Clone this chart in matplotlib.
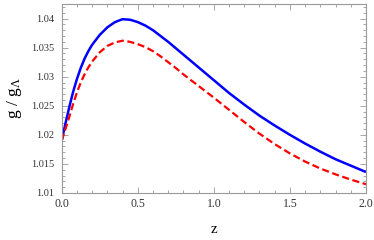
"""Growth ratio g / g_Lambda versus redshift."""
import matplotlib
matplotlib.use("Agg")
import matplotlib.pyplot as plt
from matplotlib.ticker import MultipleLocator, FuncFormatter

# values
z_grid = [0.0, 0.025, 0.05, 0.075, 0.1, 0.125, 0.15, 0.175, 0.2,
          0.25, 0.3, 0.35, 0.4, 0.45, 0.5, 0.55, 0.6, 0.65, 0.7, 0.75, 0.8, 0.85, 0.9, 0.95, 1.0,
          1.1, 1.2, 1.3, 1.4, 1.5, 1.6, 1.7, 1.8, 1.9, 2.0]
g_blue = [1.0190, 1.0220, 1.0248, 1.0274, 1.0296, 1.0315, 1.0331, 1.0344, 1.0355,
          1.0372, 1.0385, 1.0394, 1.0399, 1.0398, 1.0394, 1.0388, 1.0380, 1.0370, 1.0360,
          1.0349, 1.0338, 1.0327, 1.0316, 1.0305, 1.0294,
          1.0272, 1.0252, 1.0233, 1.0216, 1.0200, 1.0185, 1.0171, 1.0158, 1.0147, 1.0136]
g_red = [1.0190, 1.0210, 1.0231, 1.0253, 1.0273, 1.0290, 1.0304, 1.0316, 1.0326,
         1.0342, 1.0353, 1.0359, 1.0362, 1.0360, 1.0356, 1.0351, 1.0344, 1.0335, 1.0325,
         1.0315, 1.0304, 1.0294, 1.0284, 1.0274, 1.0264,
         1.0243, 1.0222, 1.0202, 1.0184, 1.0168, 1.0154, 1.0142, 1.0132, 1.0123, 1.0115]

x_ticks = [0.0, 0.5, 1.0, 1.5, 2.0]
y_ticks = [1.01, 1.015, 1.02, 1.025, 1.03, 1.035, 1.04]


def plot_growth(out_path: str) -> None:
    """Mathematica-style framed plot of the two curves."""
    plt.rcParams["font.family"] = ["Liberation Serif", "DejaVu Serif"]
    plt.rcParams["mathtext.fontset"] = "custom"
    plt.rcParams["mathtext.rm"] = "Liberation Serif"
    plt.rcParams["mathtext.it"] = "Liberation Serif:italic"
    fig = plt.figure(figsize=(3.74, 2.40), dpi=100)
    ax = fig.add_axes([0.165, 0.196, 0.8136, 0.787])

    ax.plot(z_grid, g_blue, color="#0000ff", lw=1.8, solid_capstyle="butt")
    ax.plot(z_grid, g_red, color="#ff0000", lw=1.6, dashes=(3.2, 1.6))

    ax.set_xlim(0, 2.0)
    ax.set_ylim(1.01, 1.0425)

    # ticks: inward, on every side, labels only bottom/left
    ax.set_xticks(x_ticks)
    ax.set_yticks(y_ticks)
    ax.xaxis.set_minor_locator(MultipleLocator(0.1))
    ax.yaxis.set_minor_locator(MultipleLocator(0.001))
    ax.xaxis.set_major_formatter(FuncFormatter(lambda v, p: f"{v:.1f}"))
    ax.yaxis.set_major_formatter(FuncFormatter(lambda v, p: f"{v:g}"))
    ax.tick_params(which="both", direction="in", top=True, right=True,
                   color="#999999", width=0.6, labelcolor="#333333")
    ax.tick_params(which="major", length=4)
    ax.tick_params(which="minor", length=2)
    ax.tick_params(axis="x", which="major", labelsize=8.5, pad=3.5)
    ax.tick_params(axis="y", which="major", labelsize=7.5, pad=5.5)
    for side in ax.spines.values():
        side.set_color("#999999")
        side.set_linewidth(0.8)

    ax.set_xlabel("z", fontsize=11, labelpad=9.5)
    ax.set_ylabel(r"g / g$_\mathrm{\Lambda}$", fontsize=12.5, labelpad=5)

    fig.savefig(out_path, dpi=100)
    plt.close(fig)


def main():
    plot_growth("out.png")


if __name__ == "__main__":
    main()
